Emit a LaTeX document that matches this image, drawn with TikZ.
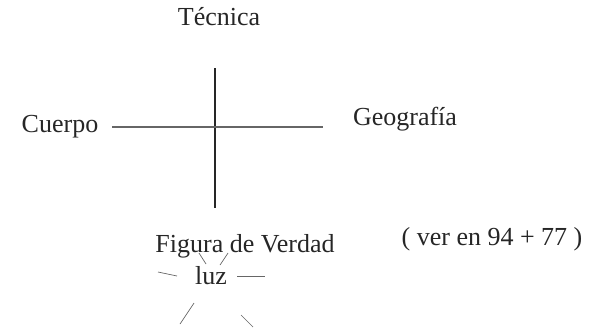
\documentclass[tikz,border=0pt]{standalone}
\usepackage{fontspec}
\setmainfont{Liberation Serif}
\begin{document}
\begin{tikzpicture}[x=1pt,y=-1pt,
  lbl/.style={font=\fontsize{26}{30}\selectfont, inner sep=0pt, anchor=base, text=black!85},
  vaxis/.style={draw=black!85, line width=1.1pt},
  haxis/.style={draw=black!60, line width=1.4pt},
  ray/.style={draw=black!60, line width=0.7pt}]
\useasboundingbox (0,0) rectangle (599,329);
\node[lbl] (tec) at (219,26) {Técnica};
\node[lbl] (cue) at (60,132) {Cuerpo};
\node[lbl] (geo) at (405,125) {Geografía};
\node[lbl] (fig) at (245,252) {Figura de Verdad};
\node[lbl] (ver) at (492,245) {( ver en 94 + 77 )};
\node[lbl] (luz) at (211,284) {luz};
\coordinate (top) at (215,68);
\coordinate (bot) at (215,208);
\coordinate (lft) at (112,127);
\coordinate (rgt) at (323,127);
\draw[vaxis] (top) -- (bot);
\draw[haxis] (lft) -- (rgt);
\coordinate (r1a) at (158,272); \coordinate (r1b) at (177,276);
\coordinate (r2a) at (237,276); \coordinate (r2b) at (265,276);
\coordinate (r3a) at (199,253); \coordinate (r3b) at (206,264);
\coordinate (r4a) at (228,253); \coordinate (r4b) at (220,265);
\coordinate (r5a) at (194,303); \coordinate (r5b) at (180,324);
\coordinate (r6a) at (241,315); \coordinate (r6b) at (253,327);
\draw[ray] (r1a) -- (r1b);
\draw[ray] (r2a) -- (r2b);
\draw[ray] (r3a) -- (r3b);
\draw[ray] (r4a) -- (r4b);
\draw[ray] (r5a) -- (r5b);
\draw[ray] (r6a) -- (r6b);
\end{tikzpicture}
\end{document}
